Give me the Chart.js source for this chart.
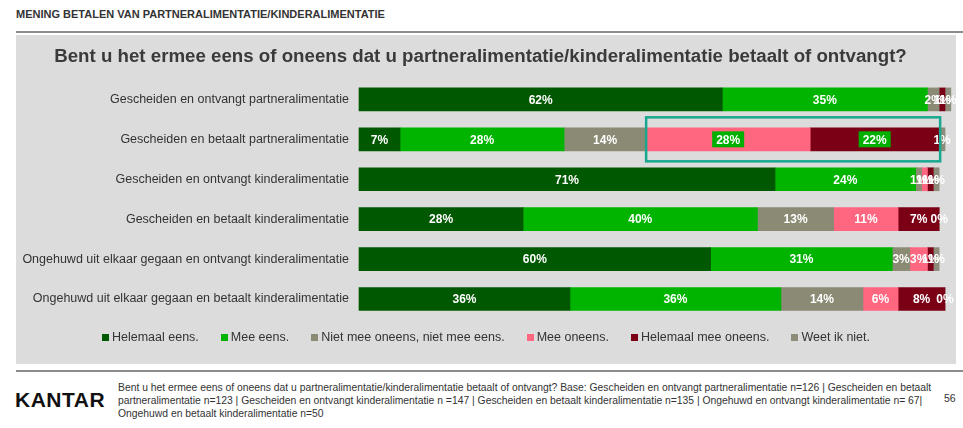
<!DOCTYPE html>
<html>
<head>
<meta charset="utf-8">
<script src="https://cdn.jsdelivr.net/npm/chart.js@4"></script>
<style>
  body { margin: 0; background: #fff; font-family: "Liberation Sans", Arial, sans-serif; color: #333; }
  #page { position: relative; width: 963px; height: 428px; overflow: hidden; }
  #header { position: absolute; left: 16px; top: 8px; font-size: 11px; font-weight: bold; color: #333; }
  .rule { position: absolute; left: 16px; right: 0; height: 2px; background: #8c8c8c; }
  #panel { position: absolute; left: 16px; top: 35px; width: 940px; height: 329px; background: #dcdcdc; }
  #legend { position: absolute; left: 0; right: 0; top: 295px; display: flex; justify-content: center; font-size: 12.5px; color: #333; }
  #legend .item { display: flex; align-items: center; margin: 0 11px; }
  #legend .box { width: 7px; height: 7px; margin-right: 3px; }
  #logo { position: absolute; left: 15px; top: 388px; font-size: 21px; font-weight: bold; letter-spacing: 0.5px; color: #111; }
  #note { position: absolute; left: 118px; top: 381px; font-size: 10.35px; line-height: 13px; color: #333; }
  #pagenr { position: absolute; left: 944px; top: 392px; font-size: 10.5px; color: #333; }
</style>
</head>
<body>
<div id="page">
  <div id="header">MENING BETALEN VAN PARTNERALIMENTATIE/KINDERALIMENTATIE</div>
  <div class="rule" style="top:31px"></div>
  <div id="panel">
    <canvas id="barChart" width="940" height="329"></canvas>
    <div id="legend"></div>
  </div>
  <div class="rule" style="top:370px"></div>
  <div id="logo">KANTAR</div>
  <div id="note">Bent u het ermee eens of oneens dat u partneralimentatie/kinderalimentatie betaalt of ontvangt? Base: Gescheiden en ontvangt partneralimentatie n=126 | Gescheiden en betaalt<br>partneralimentatie n=123 | Gescheiden en ontvangt kinderalimentatie n =147 | Gescheiden en betaalt kinderalimentatie n=135 | Ongehuwd en ontvangt kinderalimentatie n= 67|<br>Ongehuwd en betaalt kinderalimentatie n=50</div>
  <div id="pagenr">56</div>
</div>

<script>
// Groups (rows) and answer categories
const groups = [
    'Gescheiden en ontvangt partneralimentatie',
    'Gescheiden en betaalt partneralimentatie',
    'Gescheiden en ontvangt kinderalimentatie',
    'Gescheiden en betaalt kinderalimentatie',
    'Ongehuwd uit elkaar gegaan en ontvangt kinderalimentatie',
    'Ongehuwd uit elkaar gegaan en betaalt kinderalimentatie'
];
const answers = [
    'Helemaal eens.',
    'Mee eens.',
    'Niet mee oneens, niet mee eens.',
    'Mee oneens.',
    'Helemaal mee oneens.',
    'Weet ik niet.'
];

// Percentages per answer, one value per group
const helemaalEens     = [62,  7, 71, 28, 60, 36];
const meeEens          = [35, 28, 24, 40, 31, 36];
const neutraal         = [ 2, 14,  1, 13,  3, 14];
const meeOneens        = [null, 28, 1, 11,  3,  6];
const helemaalOneens   = [ 1, 22,  1,  7,  1,  8];
const weetNiet         = [ 1,  1,  1,  0,  1,  0];

const colors = ['#005800', '#00b400', '#8b8a74', '#ff6680', '#7b0016', '#8d8c7b'];

// Row whose disagreement is highlighted
const highlightRow = 1;

const FONT = '"Liberation Sans", Arial, sans-serif';

// Percentage labels inside the segments
const segmentLabels = {
    id: 'segmentLabels',
    afterDatasetsDraw(chart) {
        const ctx = chart.ctx;
        ctx.save();
        ctx.font = 'bold 12px ' + FONT;
        ctx.textAlign = 'center';
        ctx.textBaseline = 'middle';
        chart.data.datasets.forEach((ds, di) => {
            const meta = chart.getDatasetMeta(di);
            meta.data.forEach((el, i) => {
                const v = ds.data[i];
                if (v === null || v === undefined) return;
                const text = v + '%';
                const cx = (el.x + el.base) / 2;
                if (i === highlightRow && (di === 3 || di === 4)) {
                    const w = ctx.measureText(text).width + 8;
                    ctx.fillStyle = '#00b000';
                    ctx.fillRect(cx - w / 2, el.y - 8, w, 16);
                }
                ctx.fillStyle = '#ffffff';
                ctx.fillText(text, cx, el.y + 1);
            });
        });
        ctx.restore();
    }
};

// Frame around the disagreeing part of the highlighted row
const highlightBox = {
    id: 'highlightBox',
    afterDraw(chart) {
        const el = chart.getDatasetMeta(3).data[highlightRow];
        const x = chart.scales.x;
        const left = el.base;
        const right = x.getPixelForValue(99) + 1;
        const ctx = chart.ctx;
        ctx.save();
        ctx.strokeStyle = '#17a88f';
        ctx.lineWidth = 2.5;
        ctx.strokeRect(left, el.y - 22, right - left, 44);
        ctx.restore();
    }
};

function createBarChart() {
    const series = [helemaalEens, meeEens, neutraal, meeOneens, helemaalOneens, weetNiet];
    const ctx = document.getElementById('barChart').getContext('2d');
    new Chart(ctx, {
        type: 'bar',
        data: {
            labels: groups,
            datasets: series.map((values, i) => ({
                label: answers[i],
                data: values,
                backgroundColor: colors[i],
                barThickness: 23,
                clip: false
            }))
        },
        options: {
            indexAxis: 'y',
            responsive: false,
            animation: false,
            layout: {
                padding: { left: 0, right: 11, top: 0, bottom: 45 }
            },
            plugins: {
                legend: { display: false },
                tooltip: { enabled: false },
                title: {
                    display: true,
                    text: 'Bent u het ermee eens of oneens dat u partneralimentatie/kinderalimentatie betaalt of ontvangt?',
                    color: '#3a3a3a',
                    font: { family: FONT, size: 18.7, weight: 'bold' },
                    padding: { top: 11, bottom: 11 }
                }
            },
            scales: {
                x: {
                    display: false,
                    stacked: true,
                    min: 0,
                    max: 100
                },
                y: {
                    stacked: true,
                    grid: { display: false, drawTicks: false },
                    border: { display: false },
                    ticks: {
                        color: '#333',
                        padding: 10,
                        font: { family: FONT, size: 12.5 }
                    },
                    afterFit: (scale) => { scale.width = 343; }
                }
            }
        },
        plugins: [segmentLabels, highlightBox]
    });
}

// Legend built from the answer list
function createLegend() {
    const legend = document.getElementById('legend');
    answers.forEach((name, i) => {
        const item = document.createElement('div');
        item.className = 'item';
        item.innerHTML = '<span class="box" style="background:' + colors[i] + '"></span>' + name;
        legend.appendChild(item);
    });
}

createBarChart();
createLegend();
</script>
</body>
</html>
